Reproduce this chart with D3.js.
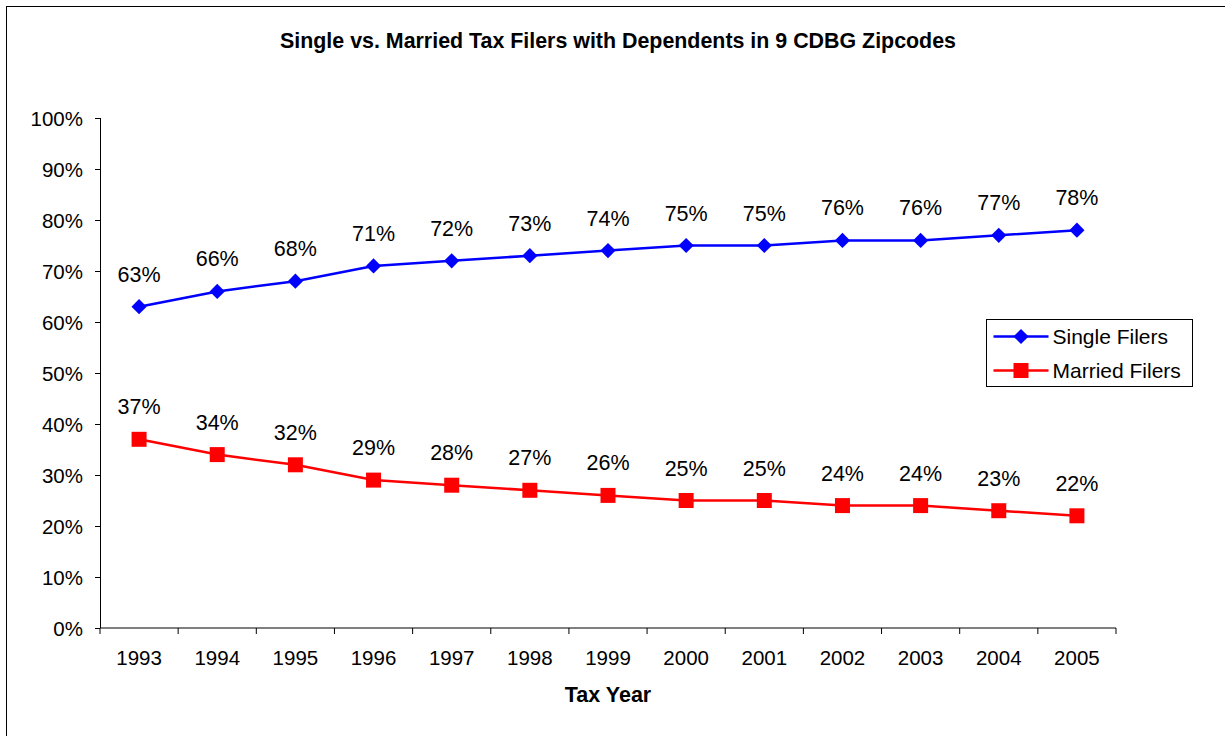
<!DOCTYPE html>
<html>
<head>
<meta charset="utf-8">
<script src="https://cdn.jsdelivr.net/npm/d3@7"></script>
<style>
  body { margin: 0; background: #fff; }
  text { font-family: "Liberation Sans", Arial, sans-serif; fill: #000; }
</style>
</head>
<body>
<div id="chart"></div>
<script>
// data
const years = ["1993", "1994", "1995", "1996", "1997", "1998", "1999", "2000", "2001", "2002", "2003", "2004", "2005"];
const singleFilers = [63, 66, 68, 71, 72, 73, 74, 75, 75, 76, 76, 77, 78];
const marriedFilers = [37, 34, 32, 29, 28, 27, 26, 25, 25, 24, 24, 23, 22];
const yTicks = [0, 10, 20, 30, 40, 50, 60, 70, 80, 90, 100];

const W = 1225, H = 736;
const margin = {top: 118, right: 109, bottom: 108, left: 100};
const width = W - margin.left - margin.right;
const height = H - margin.top - margin.bottom;

const svg = d3.select("#chart").append("svg")
    .attr("width", W)
    .attr("height", H);

// outer chart border
svg.append("rect")
    .attr("x", 6.5).attr("y", 6.5)
    .attr("width", W + 20).attr("height", H + 20)
    .attr("fill", "none")
    .attr("stroke", "#000")
    .attr("stroke-width", 1);

const g = svg.append("g")
    .attr("transform", "translate(" + margin.left + "," + margin.top + ")");

// scales
const x = d3.scaleBand()
    .domain(years)
    .range([0, width]);

const y = d3.scaleLinear()
    .domain([0, 100])
    .range([height, 0]);

// x axis, ticks between categories
const xAxis = g.append("g")
    .attr("transform", "translate(0," + height + ")");
xAxis.append("line")
    .attr("x1", 0).attr("x2", width)
    .attr("stroke", "#000");
xAxis.selectAll(".tick")
    .data(years.concat(["end"]))
    .join("line")
    .attr("x1", (d, i) => i < years.length ? x(d) : width)
    .attr("x2", (d, i) => i < years.length ? x(d) : width)
    .attr("y1", 0).attr("y2", 6)
    .attr("stroke", "#000");
xAxis.selectAll(".label")
    .data(years)
    .join("text")
    .attr("x", d => x(d) + x.bandwidth() / 2)
    .attr("y", 37)
    .attr("text-anchor", "middle")
    .style("font-size", "20.5px")
    .text(d => d);

// y axis
const yAxis = g.append("g")
    .call(d3.axisLeft(y).tickValues(yTicks).tickSize(5).tickFormat(d => d + "%"));
yAxis.select(".domain").attr("d", "M0.5," + height + "V0").attr("stroke", "#000");
yAxis.selectAll(".tick line").attr("stroke", "#000");
yAxis.selectAll(".tick text")
    .attr("x", -17)
    .attr("dy", "0.35em")
    .style("font-size", "20.5px")
    .style("font-family", "'Liberation Sans', Arial, sans-serif");

// markers: rotated square for diamond, plain square
const diamond = d3.symbol().type(d3.symbolSquare).size(115)();
const square = d3.symbol().type(d3.symbolSquare).size(225)();

const series = [
    {name: "Single Filers", values: singleFilers, color: "#0000FF", marker: diamond, rot: 45},
    {name: "Married Filers", values: marriedFilers, color: "#FF0000", marker: square, rot: 0}
];

const line = d3.line()
    .x((d, i) => x(years[i]) + x.bandwidth() / 2)
    .y(d => y(d));

series.forEach(s => {
    g.append("path")
        .datum(s.values)
        .attr("fill", "none")
        .attr("stroke", s.color)
        .attr("stroke-width", 2.5)
        .attr("d", line);

    g.selectAll(null)
        .data(s.values)
        .join("path")
        .attr("transform", (d, i) => "translate(" + (x(years[i]) + x.bandwidth() / 2) + "," + y(d) + ") rotate(" + s.rot + ")")
        .attr("d", s.marker)
        .attr("fill", s.color);

    g.selectAll(null)
        .data(s.values)
        .join("text")
        .attr("x", (d, i) => x(years[i]) + x.bandwidth() / 2)
        .attr("y", d => y(d) - 25)
        .attr("text-anchor", "middle")
        .style("font-size", "21.5px")
        .text(d => d + "%");
});

// title
svg.append("text")
    .attr("x", 618)
    .attr("y", 48)
    .attr("text-anchor", "middle")
    .style("font-size", "21.4px")
    .style("font-weight", "bold")
    .text("Single vs. Married Tax Filers with Dependents in 9 CDBG Zipcodes");

// x axis title
svg.append("text")
    .attr("x", margin.left + width / 2)
    .attr("y", 702)
    .attr("text-anchor", "middle")
    .style("font-size", "21.5px")
    .style("font-weight", "bold")
    .text("Tax Year");

// legend
const legend = svg.append("g")
    .attr("transform", "translate(986.5,319.5)");
legend.append("rect")
    .attr("width", 206).attr("height", 67)
    .attr("fill", "#fff")
    .attr("stroke", "#000");

const items = legend.selectAll(".item")
    .data(series)
    .join("g")
    .attr("transform", (d, i) => "translate(0," + (17 + i * 34) + ")");
items.append("line")
    .attr("x1", 7).attr("x2", 62)
    .attr("stroke", d => d.color)
    .attr("stroke-width", 2.5);
items.append("path")
    .attr("transform", d => "translate(34.5,0) rotate(" + d.rot + ")")
    .attr("d", d => d.marker)
    .attr("fill", d => d.color);
items.append("text")
    .attr("x", 66)
    .attr("dy", "0.35em")
    .style("font-size", "21px")
    .text(d => d.name);
</script>
</body>
</html>
